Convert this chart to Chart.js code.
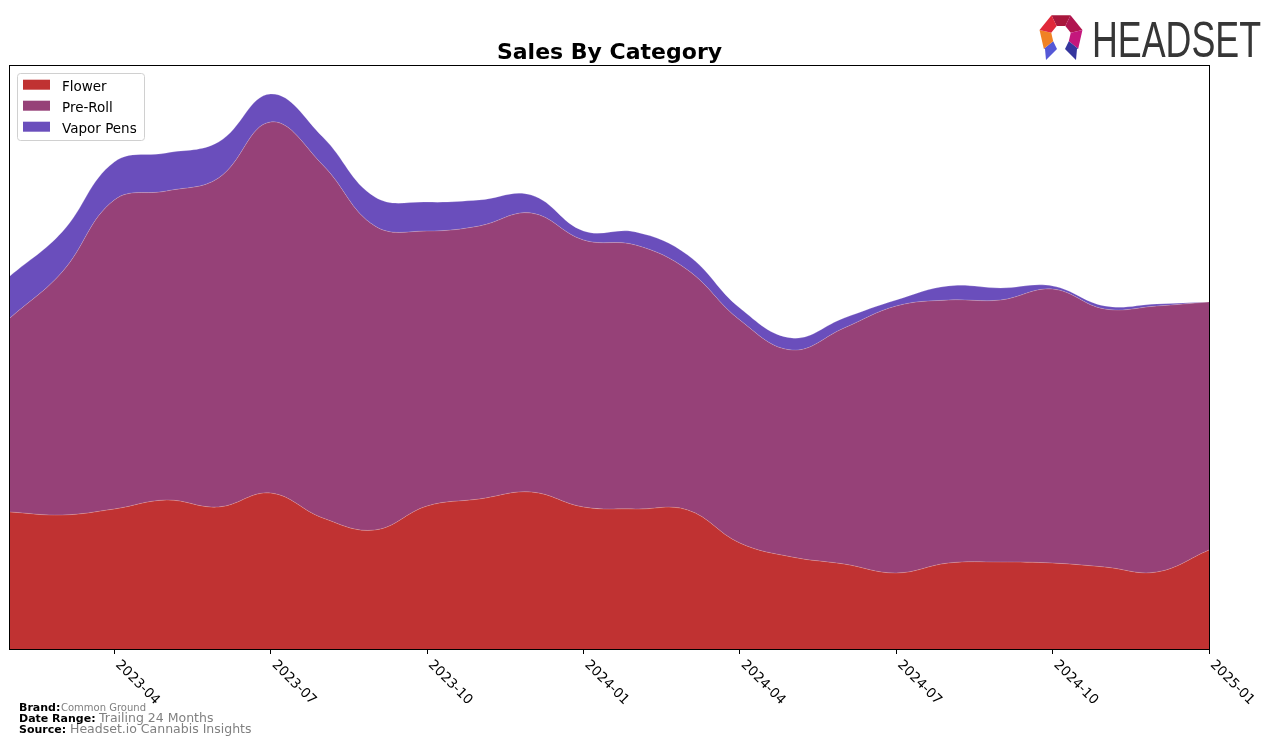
<!DOCTYPE html>
<html>
<head>
<meta charset="utf-8">
<script src="https://cdn.jsdelivr.net/npm/chart.js@4.4.1/dist/chart.umd.min.js"></script>
<style>
  html, body { margin: 0; padding: 0; background: #fff; }
  #wrap { width: 1276px; height: 746px; }
</style>
</head>
<body>
<div id="wrap"><canvas id="myChart" width="1276" height="746"></canvas></div>
<script>
// Months on the x axis (trailing 24 months)
const months = ['2023-02', '2023-03', '2023-04', '2023-05', '2023-06', '2023-07', '2023-08', '2023-09',
  '2023-10', '2023-11', '2023-12', '2024-01', '2024-02', '2024-03', '2024-04', '2024-05',
  '2024-06', '2024-07', '2024-08', '2024-09', '2024-10', '2024-11', '2024-12', '2025-01'];

// Only every third month gets a tick label
const tickMonths = ['2023-04', '2023-07', '2023-10', '2024-01', '2024-04', '2024-07', '2024-10', '2025-01'];

// Sales per category (relative units, no y axis in the original)
const flower = [137, 134, 140, 149, 142, 156, 131, 119, 143, 150, 157, 142,
  140, 139, 106, 92, 85, 76, 86, 87, 86, 82, 77, 99];
const preRoll = [194, 243, 309, 309, 329, 371, 353, 304, 275, 273, 279, 267,
  264, 240, 223, 207, 236, 267, 263, 262, 274, 258, 266, 248];
const vaporPens = [42, 40, 38, 38, 36, 28, 28, 29, 29, 26, 18, 9,
  13, 15, 12, 12, 10, 6, 14, 12, 3, 3, 2, 0];

const seriesNames = ['Flower', 'Pre-Roll', 'Vapor Pens'];
const seriesColors = ['#c03232', '#964178', '#6a4ebc'];

const yMax = 583;

const ctx = document.getElementById('myChart');

// Draws frame, rotated tick labels, title, legend, footer and logo
const decorPlugin = {
  id: 'decor',
  afterDraw(chart) {
    const c = chart.ctx;
    const ca = chart.chartArea;
    const xScale = chart.scales.x;

    c.save();

    // axes frame
    c.strokeStyle = '#000';
    c.lineWidth = 1;
    c.strokeRect(Math.round(ca.left) - 0.5, Math.round(ca.top) - 0.5,
      Math.round(ca.right - ca.left) + 1, Math.round(ca.bottom - ca.top) + 1);

    // x tick labels, rotated clockwise
    c.fillStyle = '#000';
    c.font = '13.5px "DejaVu Sans"';
    c.textAlign = 'left';
    c.textBaseline = 'top';
    xScale.ticks.forEach((t, i) => {
      const x = xScale.getPixelForTick(i);
      c.save();
      c.translate(x + 8, ca.bottom + 9);
      c.rotate(Math.PI / 4);
      c.fillText(xScale.getLabelForValue(t.value), 0, 0);
      c.restore();
    });

    // title
    c.font = 'bold 22px "DejaVu Sans"';
    c.textAlign = 'center';
    c.textBaseline = 'alphabetic';
    c.fillText('Sales By Category', (ca.left + ca.right) / 2, 59);

    // legend
    c.fillStyle = 'rgba(255,255,255,0.8)';
    c.strokeStyle = '#d0d0d0';
    c.beginPath();
    c.roundRect(17.5, 73.5, 127, 67, 3);
    c.fill();
    c.stroke();
    c.font = '13.5px "DejaVu Sans"';
    c.textAlign = 'left';
    c.textBaseline = 'middle';
    chart.data.datasets.forEach((ds, i) => {
      const y = 84.7 + i * 21;
      c.fillStyle = ds.backgroundColor;
      c.fillRect(23, y - 5, 27, 10);
      c.fillStyle = '#000';
      c.fillText(ds.label, 62, y + 2.5);
    });

    // footer
    c.textBaseline = 'alphabetic';
    const footer = [
      ['Brand:', 'Common Ground', 711, '10px', 61],
      ['Date Range:', 'Trailing 24 Months', 722, '12.5px', 99],
      ['Source:', 'Headset.io Cannabis Insights', 733, '12.5px', 70]
    ];
    footer.forEach(([label, value, y, size, vx]) => {
      c.font = 'bold 11px "DejaVu Sans"';
      c.fillStyle = '#000';
      c.fillText(label, 19, y);
      c.font = size + ' "DejaVu Sans"';
      c.fillStyle = '#808080';
      c.fillText(value, vx, y);
    });

    // logo text
    c.font = '50px "Liberation Sans"';
    c.fillStyle = '#363636';
    c.fillText('HEADSET', 1092, 56.5, 169);

    // logo icon: ring of coloured pieces, open at the bottom with two legs
    const cx = 1061, cy = 35, rOut = 22, rIn = 10;
    const pieceColors = ['#a8173c', '#b0154f', '#c4177c', '#35369e', '#5558d6', '#f08224', '#e0283a'];
    const step = 360 / 7;
    const start = -90 - step / 2;
    const pt = (r, deg) => [cx + r * Math.cos(deg * Math.PI / 180), cy + r * Math.sin(deg * Math.PI / 180)];
    for (let k = 0; k < 7; k++) {
      const a0 = start + k * step;
      const a1 = a0 + step;
      let pts;
      if (k === 3) {
        // lower-right leg pointing down
        pts = [pt(rOut, a0), pt(rIn, a0), [cx + 4, cy + 14], [cx + 15, cy + 25], [cx + 16, cy + 14]];
      } else if (k === 4) {
        // lower-left leg pointing down
        pts = [pt(rOut, a1), pt(rIn, a1), [cx - 4, cy + 14], [cx - 15, cy + 25], [cx - 16, cy + 14]];
      } else {
        pts = [pt(rOut, a0), pt(rOut, a1), pt(rIn, a1), pt(rIn, a0)];
      }
      c.beginPath();
      c.moveTo(pts[0][0], pts[0][1]);
      pts.slice(1).forEach(p => c.lineTo(p[0], p[1]));
      c.closePath();
      c.fillStyle = pieceColors[k];
      c.fill();
    }

    c.restore();
  }
};

const seriesData = [flower, preRoll, vaporPens];

const myChart = new Chart(ctx, {
  type: 'line',
  data: {
    labels: months,
    datasets: seriesData.map((values, i) => ({
      label: seriesNames[i],
      data: values,
      backgroundColor: seriesColors[i],
      borderColor: 'rgba(255,255,255,0.2)',
      borderWidth: 1,
      pointRadius: 0,
      tension: 0.4,
      fill: i === 0 ? 'origin' : '-1'
    }))
  },
  options: {
    responsive: false,
    animation: false,
    devicePixelRatio: 1,
    layout: {
      autoPadding: false,
      padding: { left: 10, right: 67, top: 66, bottom: 92 }
    },
    plugins: {
      legend: { display: false },
      title: { display: false },
      tooltip: { enabled: false }
    },
    scales: {
      x: {
        type: 'category',
        offset: false,
        border: { display: false },
        grid: {
          display: true,
          drawOnChartArea: false,
          drawTicks: true,
          tickLength: 5,
          color: '#000',
          lineWidth: 1
        },
        ticks: { display: false },
        afterBuildTicks: scale => {
          scale.ticks = tickMonths.map(m => ({ value: months.indexOf(m) }));
        }
      },
      y: {
        display: false,
        stacked: true,
        min: 0,
        max: yMax
      }
    }
  },
  plugins: [decorPlugin]
});
</script>
</body>
</html>
